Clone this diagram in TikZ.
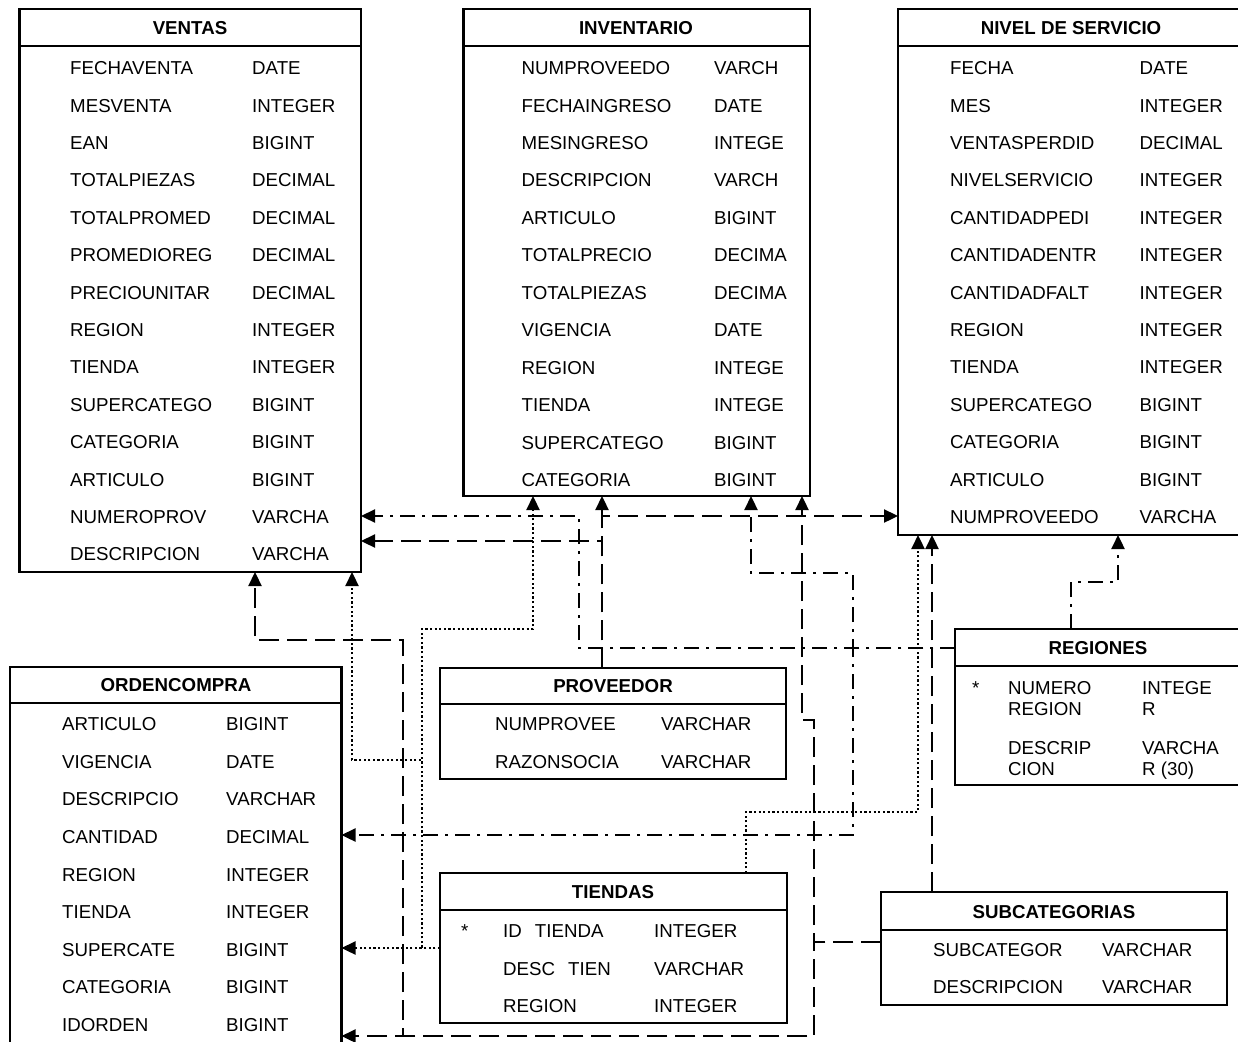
\documentclass[tikz,border=0pt]{standalone}
\usepackage{fontspec}
\setmainfont{Liberation Sans}
\usetikzlibrary{arrows.meta}
\begin{document}
\begin{tikzpicture}[x=1pt,y=-1pt,
  tbl/.style={draw, line width=2.3pt, inner sep=0pt, outer sep=0pt, anchor=north west},
  txt/.style={inner sep=0pt, anchor=base west, font=\fontsize{18.7}{21}\selectfont},
  hdr/.style={inner sep=0pt, font=\bfseries\fontsize{18.7}{21}\selectfont},
  hline/.style={line width=2.3pt},
  lk/.style={line width=2.3pt, line cap=butt, -{Triangle[length=14pt,width=13pt]}},
  lkdash/.style={lk, dash pattern=on 20pt off 8pt},
  lkdd/.style={lk, dash pattern=on 15pt off 7pt on 3pt off 7pt},
  lkdot/.style={lk, dash pattern=on 2.2pt off 2.4pt}]
\useasboundingbox (0,0) rectangle (1238,1041);

% ---------------- tables ----------------
\node[tbl, minimum width=341.5pt, minimum height=563pt] (ventas) at (19.5,9) {};
\node[tbl, minimum width=346.5pt, minimum height=487pt] (inventario) at (463.5,9) {};
\node[tbl, minimum width=346pt, minimum height=526pt] (nivel) at (898,9) {};
\node[tbl, minimum width=331.5pt, minimum height=381pt] (ordencompra) at (10,667) {};
\node[tbl, minimum width=346pt, minimum height=111pt] (proveedor) at (440,668) {};
\node[tbl, minimum width=347pt, minimum height=150pt] (tiendas) at (440,873) {};
\node[tbl, minimum width=286pt, minimum height=156pt] (regiones) at (955,629) {};
\node[tbl, minimum width=346pt, minimum height=113pt] (subcat) at (881,892) {};

% header lines
\draw[hline] (ventas.west |- 0,46) -- (ventas.east |- 0,46);
\draw[hline] (inventario.west |- 0,46) -- (inventario.east |- 0,46);
\draw[hline] (nivel.west |- 0,46) -- (nivel.east |- 0,46);
\draw[hline] (ordencompra.west |- 0,703) -- (ordencompra.east |- 0,703);
\draw[hline] (proveedor.west |- 0,704) -- (proveedor.east |- 0,704);
\draw[hline] (tiendas.west |- 0,910) -- (tiendas.east |- 0,910);
\draw[hline] (regiones.west |- 0,666) -- (regiones.east |- 0,666);
\draw[hline] (subcat.west |- 0,930) -- (subcat.east |- 0,930);

% headers
\node[hdr] (ventas-h) at (190,28) {VENTAS};
\node[hdr] (inventario-h) at (636,28) {INVENTARIO};
\node[hdr] (nivel-h) at (1071,28) {NIVEL DE SERVICIO};
\node[hdr] (ordencompra-h) at (176,685) {ORDENCOMPRA};
\node[hdr] (proveedor-h) at (613,686) {PROVEEDOR};
\node[hdr] (tiendas-h) at (613,892) {TIENDAS};
\node[hdr] (regiones-h) at (1098,648) {REGIONES};
\node[hdr] (subcat-h) at (1054,912) {SUBCATEGORIAS};

% rows
\foreach \n/\t [count=\i from 0] in {FECHAVENTA/DATE, MESVENTA/INTEGER, EAN/BIGINT, TOTALPIEZAS/DECIMAL, TOTALPROMED/DECIMAL, PROMEDIOREG/DECIMAL, PRECIOUNITAR/DECIMAL, REGION/INTEGER, TIENDA/INTEGER, SUPERCATEGO/BIGINT, CATEGORIA/BIGINT, ARTICULO/BIGINT, NUMEROPROV/VARCHA, DESCRIPCION/VARCHA} {
  \node[txt] (ventas-n\i) at (70,{68+37.4*\i+6.6}) {\n};
  \node[txt] (ventas-t\i) at (252,{68+37.4*\i+6.6}) {\t};
}
\foreach \n/\t [count=\i from 0] in {NUMPROVEEDO/VARCH, FECHAINGRESO/DATE, MESINGRESO/INTEGE, DESCRIPCION/VARCH, ARTICULO/BIGINT, TOTALPRECIO/DECIMA, TOTALPIEZAS/DECIMA, VIGENCIA/DATE, REGION/INTEGE, TIENDA/INTEGE, SUPERCATEGO/BIGINT, CATEGORIA/BIGINT} {
  \node[txt] (inventario-n\i) at (521.5,{68+37.45*\i+6.6}) {\n};
  \node[txt] (inventario-t\i) at (714,{68+37.45*\i+6.6}) {\t};
}
\foreach \n/\t [count=\i from 0] in {FECHA/DATE, MES/INTEGER, VENTASPERDID/DECIMAL, NIVELSERVICIO/INTEGER, CANTIDADPEDI/INTEGER, CANTIDADENTR/INTEGER, CANTIDADFALT/INTEGER, REGION/INTEGER, TIENDA/INTEGER, SUPERCATEGO/BIGINT, CATEGORIA/BIGINT, ARTICULO/BIGINT, NUMPROVEEDO/VARCHA} {
  \node[txt] (nivel-n\i) at (950,{68+37.4*\i+6.6}) {\n};
  \node[txt] (nivel-t\i) at (1139.5,{68+37.4*\i+6.6}) {\t};
}
\foreach \n/\t [count=\i from 0] in {ARTICULO/BIGINT, VIGENCIA/DATE, DESCRIPCIO/VARCHAR, CANTIDAD/DECIMAL, REGION/INTEGER, TIENDA/INTEGER, SUPERCATE/BIGINT, CATEGORIA/BIGINT, IDORDEN/BIGINT} {
  \node[txt] (ordencompra-n\i) at (62,{724+37.6*\i+6.6}) {\n};
  \node[txt] (ordencompra-t\i) at (226,{724+37.6*\i+6.6}) {\t};
}
\foreach \n/\t [count=\i from 0] in {NUMPROVEE/VARCHAR, RAZONSOCIA/VARCHAR} {
  \node[txt] (proveedor-n\i) at (495,{724+37.8*\i+6.6}) {\n};
  \node[txt] (proveedor-t\i) at (661,{724+37.8*\i+6.6}) {\t};
}
\node[txt] (tiendas-star) at (461,{931+6.6}) {*};
\foreach \n/\t [count=\i from 0] in {ID\hspace{13pt}TIENDA/INTEGER, DESC\hspace{13pt}TIEN/VARCHAR, REGION/INTEGER} {
  \node[txt] (tiendas-n\i) at (503,{931+37.5*\i+6.6}) {\n};
  \node[txt] (tiendas-t\i) at (654,{931+37.5*\i+6.6}) {\t};
}
\node[txt] (regiones-star) at (972,{688+6.6}) {*};
\node[txt] (regiones-n0a) at (1008,{688+6.6}) {NUMERO};
\node[txt] (regiones-n0b) at (1008,{709+6.6}) {REGION};
\node[txt] (regiones-t0a) at (1142,{688+6.6}) {INTEGE};
\node[txt] (regiones-t0b) at (1142,{709+6.6}) {R};
\node[txt] (regiones-n1a) at (1008,{748+6.6}) {DESCRIP};
\node[txt] (regiones-n1b) at (1008,{769+6.6}) {CION};
\node[txt] (regiones-t1a) at (1142,{748+6.6}) {VARCHA};
\node[txt] (regiones-t1b) at (1142,{769+6.6}) {R (30)};
\foreach \n/\t [count=\i from 0] in {SUBCATEGOR/VARCHAR, DESCRIPCION/VARCHAR} {
  \node[txt] (subcat-n\i) at (933,{950+37*\i+6.6}) {\n};
  \node[txt] (subcat-t\i) at (1102,{950+37*\i+6.6}) {\t};
}

% ---------------- connectors ----------------
% REGIONES (dash-dot)
\draw[lkdd] (regiones.west |- 0,648) -- (579,648) -- (579,516) -- (ventas.east |- 0,516);
\draw[lkdd] (regiones.west |- 0,648) -- (853,648) -- (853,573) -- (751,573) -- (inventario.south -| 751,0);
\draw[lkdd] (regiones.west |- 0,648) -- (853,648) -- (853,835) -- (ordencompra.east |- 0,835);
\draw[lkdd] (regiones.north -| 1071,0) -- (1071,582) -- (1118,582) -- (nivel.south -| 1118,0);

% PROVEEDOR (dashed)
\draw[lkdash] (proveedor.north -| 602,0) -- (inventario.south -| 602,0);
\draw[lkdash] (proveedor.north -| 602,0) -- (602,541) -- (ventas.east |- 0,541);
\draw[lkdash] (proveedor.north -| 602,0) -- (602,516) -- (nivel.west |- 0,516);

% TIENDAS (dotted)
\draw[lkdot] (tiendas.west) -- (ordencompra.east |- tiendas.west);
\draw[lkdot] (tiendas.west) -- (422,948) -- (422,629) -- (533,629) -- (inventario.south -| 533,0);
\draw[lkdot] (tiendas.west) -- (422,948) -- (422,760) -- (352,760) -- (ventas.south -| 352,0);
\draw[lkdot] (tiendas.north -| 746,0) -- (746,812) -- (918,812) -- (nivel.south -| 918,0);

% SUBCATEGORIAS (dashed)
\draw[lkdash] (subcat.north -| 932,0) -- (nivel.south -| 932,0);
\draw[lkdash] (subcat.west |- 0,942) -- (814,942) -- (814,720) -- (802,720) -- (inventario.south -| 802,0);
\draw[lkdash] (subcat.west |- 0,942) -- (814,942) -- (814,1036) -- (ordencompra.east |- 0,1036);
\draw[lkdash] (subcat.west |- 0,942) -- (814,942) -- (814,1036) -- (403,1036) -- (403,640) -- (255,640) -- (ventas.south -| 255,0);
\end{tikzpicture}
\end{document}
